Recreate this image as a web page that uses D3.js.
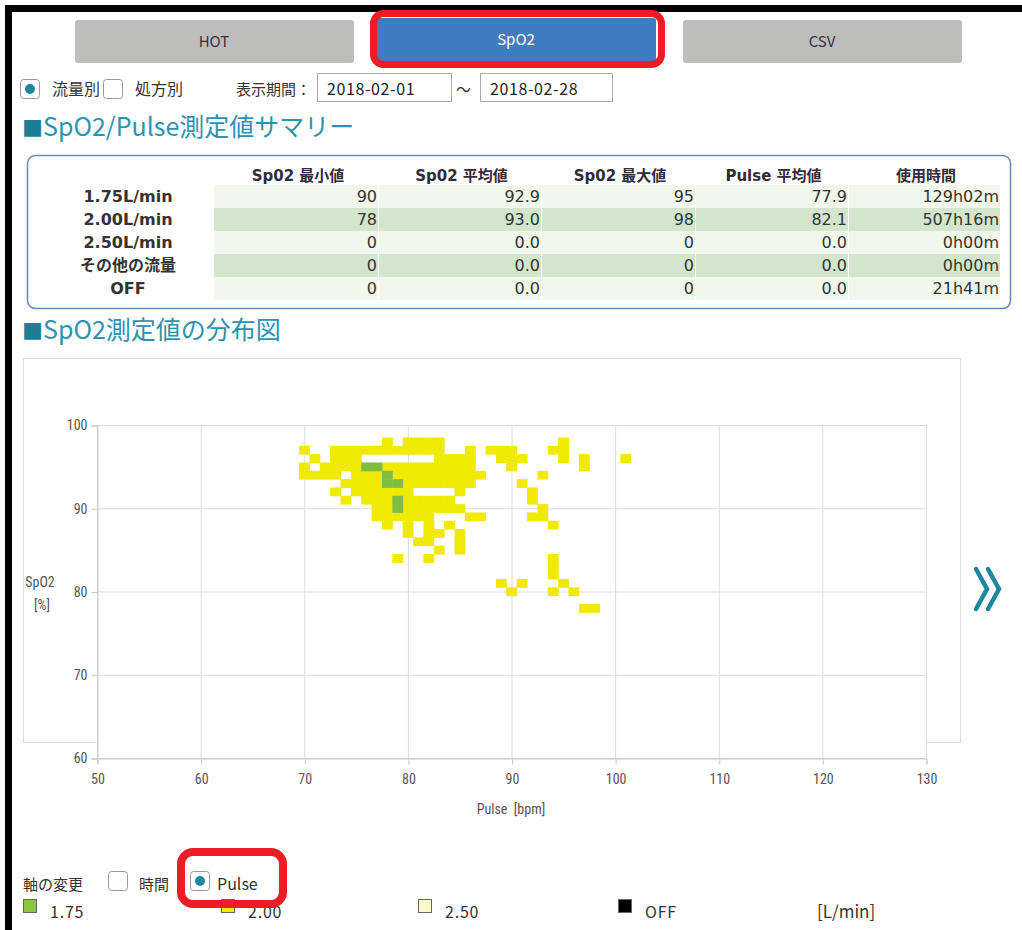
<!DOCTYPE html>
<html>
<head>
<meta charset="utf-8">
<script src="https://cdn.jsdelivr.net/npm/d3@7"></script>
<style>
  body { margin: 0; background: #fff; }
  svg text { font-family: "Noto Sans CJK JP", "Noto Sans", sans-serif; white-space: pre; }
</style>
</head>
<body>
<svg id="page"></svg>
<script>
// ---- data ----
const tabs = ["HOT", "SpO2", "CSV"];
const fromDate = "2018-02-01", toDate = "2018-02-28";

const flowRows = ["1.75L/min", "2.00L/min", "2.50L/min", "その他の流量", "OFF"];
const columnHeads = ["Sp02 最小値", "Sp02 平均値", "Sp02 最大値", "Pulse 平均値", "使用時間"];
const spo2Min = ["90", "78", "0", "0", "0"];
const spo2Avg = ["92.9", "93.0", "0.0", "0.0", "0.0"];
const spo2Max = ["95", "98", "0", "0", "0"];
const pulseAvg = ["77.9", "82.1", "0.0", "0.0", "0.0"];
const useTime = ["129h02m", "507h16m", "0h00m", "0h00m", "21h41m"];

const xTicks = [50, 60, 70, 80, 90, 100, 110, 120, 130];
const yTicks = [60, 70, 80, 90, 100];

const legendLabels = ["1.75", "2.00", "2.50", "OFF"];

// [pulse, spo2] cells per flow rate
const cells175 = [[76, 95], [77, 95], [78, 94], [78, 93], [79, 93], [79, 91], [79, 90]];
const cells200 = [
  [78, 98], [80, 98], [81, 98], [82, 98], [83, 98], [95, 98],
  [70, 97], [73, 97], [74, 97], [75, 97], [76, 97], [77, 97], [78, 97], [79, 97], [80, 97], [81, 97], [82, 97], [83, 97],
  [86, 97], [88, 97], [89, 97], [90, 97], [94, 97], [95, 97],
  [71, 96], [73, 96], [74, 96], [75, 96], [83, 96], [84, 96], [85, 96], [86, 96], [89, 96], [90, 96], [91, 96], [95, 96], [97, 96], [101, 96],
  [70, 95], [72, 95], [73, 95], [74, 95], [75, 95], [78, 95], [79, 95], [80, 95], [81, 95], [82, 95], [83, 95], [84, 95], [85, 95], [86, 95], [90, 95], [97, 95],
  [70, 94], [71, 94], [72, 94], [73, 94], [75, 94], [76, 94], [77, 94], [79, 94], [80, 94], [81, 94], [82, 94], [83, 94], [84, 94], [85, 94], [86, 94], [87, 94], [93, 94],
  [74, 93], [75, 93], [76, 93], [77, 93], [80, 93], [81, 93], [82, 93], [83, 93], [84, 93], [85, 93], [86, 93], [91, 93],
  [73, 92], [75, 92], [76, 92], [77, 92], [78, 92], [79, 92], [80, 92], [85, 92], [92, 92],
  [74, 91], [76, 91], [77, 91], [78, 91], [80, 91], [81, 91], [82, 91], [83, 91], [84, 91], [92, 91],
  [77, 90], [78, 90], [80, 90], [81, 90], [82, 90], [83, 90], [84, 90], [85, 90], [93, 90],
  [77, 89], [78, 89], [79, 89], [80, 89], [81, 89], [82, 89], [86, 89], [87, 89], [92, 89], [93, 89],
  [78, 88], [80, 88], [82, 88], [84, 88], [94, 88],
  [80, 87], [82, 87], [83, 87], [85, 87],
  [81, 86], [82, 86], [85, 86],
  [83, 85], [85, 85],
  [79, 84], [82, 84], [94, 84], [94, 83], [94, 82],
  [89, 81], [91, 81], [95, 81],
  [90, 80], [94, 80], [96, 80],
  [97, 78], [98, 78]
];

// ---- page ----
const W = 1022, H = 930;
const svg = d3.select("#page").attr("width", W).attr("height", H);
const teal = "#1f86a0";

// frame
svg.append("rect").attr("x", 5).attr("y", 5).attr("width", 7).attr("height", H).attr("fill", "#000");
svg.append("rect").attr("x", 5).attr("y", 5).attr("width", W).attr("height", 7).attr("fill", "#000");

// tab buttons
const tabX = [75, 377, 683];
const tabG = svg.selectAll(".tab").data(tabs).enter().append("g").attr("class", "tab");
tabG.append("rect")
  .attr("x", (d, i) => tabX[i]).attr("y", (d, i) => i === 1 ? 18 : 20)
  .attr("width", 279).attr("height", 43).attr("rx", 3)
  .attr("fill", (d, i) => i === 1 ? "#3f7dbf" : "#bdbdbc");
tabG.append("text")
  .attr("x", (d, i) => tabX[i] + 139).attr("y", (d, i) => i === 1 ? 45 : 47)
  .attr("text-anchor", "middle").attr("font-size", 15)
  .attr("fill", (d, i) => i === 1 ? "#fff" : "#3a3040")
  .text(d => d);
svg.append("rect").attr("x", 373.5).attr("y", 13.5).attr("width", 288).attr("height", 51)
  .attr("rx", 10).attr("fill", "none").attr("stroke", "#ee1c24").attr("stroke-width", 7);

// radio / checkbox row
function radio(x, y, on) {
  svg.append("rect").attr("x", x + 0.5).attr("y", y + 0.5).attr("width", 19).attr("height", 19)
    .attr("rx", 3).attr("fill", "#fff").attr("stroke", "#999");
  if (on) svg.append("circle").attr("cx", x + 10).attr("cy", y + 10).attr("r", 5).attr("fill", teal);
}
radio(20, 79, true);
radio(103, 79, false);
const t15 = (x, y, s) => svg.append("text").attr("x", x).attr("y", y).attr("font-size", 15).attr("fill", "#333").text(s);
t15(52, 95, "流量別").attr("font-size", 16);
t15(135, 95, "処方別").attr("font-size", 16);
t15(236, 95, "表示期間：");
t15(456, 95, "～");
[[317, fromDate], [480, toDate]].forEach(([x, s]) => {
  svg.append("rect").attr("x", x + 0.5).attr("y", 73.5).attr("width", x === 317 ? 134 : 132).attr("height", 28)
    .attr("fill", "#fff").attr("stroke", "#aaa");
  t15(x + 10, 95, s).attr("fill", "#222").attr("font-size", 16).attr("letter-spacing", 0.6);
});

// section headings
function heading(y, s) {
  const t = svg.append("text").attr("x", 22).attr("y", y).attr("font-size", 25).attr("fill", "#2b93b0");
  t.append("tspan").attr("fill", "#1c7d96").attr("font-size", 21).text("■");
  t.append("tspan").text(s);
}
heading(136, "SpO2/Pulse測定値サマリー");
heading(339, "SpO2測定値の分布図");

// summary table
svg.append("rect").attr("x", 27.5).attr("y", 155.5).attr("width", 983).attr("height", 153)
  .attr("rx", 8).attr("fill", "#fff").attr("stroke", "#5f89bf").attr("stroke-width", 1.5);
const colEdges = [214, 378, 541, 695, 848, 1000];
const rowTop = 185, rowH = 23;
const tableCols = [spo2Min, spo2Avg, spo2Max, pulseAvg, useTime];
const tblFont = "'DejaVu Sans', 'Noto Sans CJK JP', sans-serif";
const tbl = svg.append("g");
tbl.selectAll(".hd").data(columnHeads).enter().append("text")
  .attr("x", (d, i) => (colEdges[i] + colEdges[i + 1]) / 2 + 2).attr("y", 181)
  .attr("text-anchor", "middle").attr("font-size", 15).attr("font-weight", "bold").attr("fill", "#332a3a")
  .style("font-family", tblFont)
  .text(d => d);
flowRows.forEach((r, ri) => {
  const y0 = rowTop + ri * rowH;
  tbl.append("text").attr("x", 128).attr("y", y0 + 17).attr("text-anchor", "middle")
    .attr("font-size", 16).attr("font-weight", "bold").attr("fill", "#333")
    .style("font-family", tblFont).text(r);
  tableCols.forEach((col, ci) => {
    tbl.append("rect").attr("x", colEdges[ci] + (ci ? 1 : 0)).attr("y", y0)
      .attr("width", colEdges[ci + 1] - colEdges[ci] - (ci ? 1 : 0)).attr("height", rowH)
      .attr("fill", ri % 2 ? "#d3e6cd" : "#f2f7ec");
    tbl.append("text").attr("x", colEdges[ci + 1] - 1).attr("y", y0 + 17).attr("text-anchor", "end")
      .attr("font-size", 16).attr("fill", "#333").style("font-family", tblFont).text(col[ri]);
  });
});

// ---- scatter chart ----
const x = d3.scaleLinear().domain([50, 130]).range([97, 926]);
const y = d3.scaleLinear().domain([60, 100]).range([758, 425]);
const grid = "#dcdcdc";

svg.append("rect").attr("x", 23.5).attr("y", 358.5).attr("width", 937).attr("height", 384)
  .attr("fill", "#fff").attr("stroke", grid);
svg.append("rect").attr("x", 97).attr("y", 425).attr("width", 829).attr("height", 333).attr("fill", "#fff");

const chart = svg.append("g");
chart.selectAll(".vg").data(xTicks).enter().append("line")
  .attr("x1", d => x(d) + 0.5).attr("x2", d => x(d) + 0.5).attr("y1", 425).attr("y2", 758).attr("stroke", grid);
chart.selectAll(".hg").data(yTicks).enter().append("line")
  .attr("x1", 97).attr("x2", 926).attr("y1", d => y(d) + 0.5).attr("y2", d => y(d) + 0.5).attr("stroke", grid);

const axisFont = "'Liberation Sans Narrow', 'Roboto Condensed', 'DejaVu Sans Condensed', sans-serif";
const yAxis = chart.append("g").attr("transform", "translate(97.5,0.5)")
  .call(d3.axisLeft(y).tickValues(yTicks).tickSize(6).tickPadding(4));
const xAxis = chart.append("g").attr("transform", "translate(0.5,758.5)")
  .call(d3.axisBottom(x).tickValues(xTicks).tickSize(6).tickPadding(10));
[yAxis, xAxis].forEach(a => {
  a.select(".domain").attr("stroke", "#c8c8c8");
  a.selectAll(".tick line").attr("stroke", "#c8c8c8");
  a.selectAll("text").attr("fill", "#555").attr("font-size", 14).style("font-family", axisFont);
});

const cw = x(1) - x(0), ch = y(0) - y(1);
function drawCells(data, color) {
  chart.append("g").selectAll("rect").data(data).enter().append("rect")
    .attr("x", d => x(d[0]) - cw / 2).attr("y", d => y(d[1]) - ch / 2)
    .attr("width", cw + 0.5).attr("height", ch + 0.5)
    .attr("fill", color);
}
drawCells(cells200, "#efea00");
drawCells(cells175, "#7fbf3f");

chart.append("text").attr("x", 511).attr("y", 814).attr("text-anchor", "middle")
  .attr("font-size", 14).attr("fill", "#555").style("font-family", axisFont).text("Pulse  [bpm]");
chart.append("text").attr("x", 40).attr("y", 587).attr("text-anchor", "middle")
  .attr("font-size", 14).attr("fill", "#555").style("font-family", axisFont).text("SpO2");
chart.append("text").attr("x", 42).attr("y", 610).attr("text-anchor", "middle")
  .attr("font-size", 14).attr("fill", "#555").style("font-family", axisFont).text("[%]");

// next arrow
[976, 988].forEach(x0 => {
  svg.append("path").attr("d", `M${x0},569 L${x0 + 11},589 L${x0},609`)
    .attr("fill", "none").attr("stroke", teal).attr("stroke-width", 4.5).attr("stroke-linecap", "round");
});

// axis switch + legend
t15(23, 890, "軸の変更");
radio(108, 871, false);
t15(139, 890, "時間");
radio(190, 871, true);
t15(217, 890, "Pulse").attr("font-size", 16);

const legendX = [23, 221, 418, 618];
const legendFill = ["#8cc63f", "#f5ea00", "#fdf9c8", "#000"];
const lg = svg.selectAll(".lg").data(legendLabels).enter().append("g");
lg.append("rect").attr("x", (d, i) => legendX[i] + 0.5).attr("y", 899.5).attr("width", 13).attr("height", 13)
  .attr("fill", (d, i) => legendFill[i]).attr("stroke", "#666");
lg.append("text").attr("x", (d, i) => legendX[i] + 27).attr("y", 918).attr("font-size", 16)
  .attr("letter-spacing", 0.8).attr("fill", "#333")
  .text(d => d);
t15(817, 918, "[L/min]").attr("font-size", 17);

svg.append("rect").attr("x", 181).attr("y", 852).attr("width", 102).attr("height", 52)
  .attr("rx", 12).attr("fill", "none").attr("stroke", "#ee1c24").attr("stroke-width", 8);
</script>
</body>
</html>
